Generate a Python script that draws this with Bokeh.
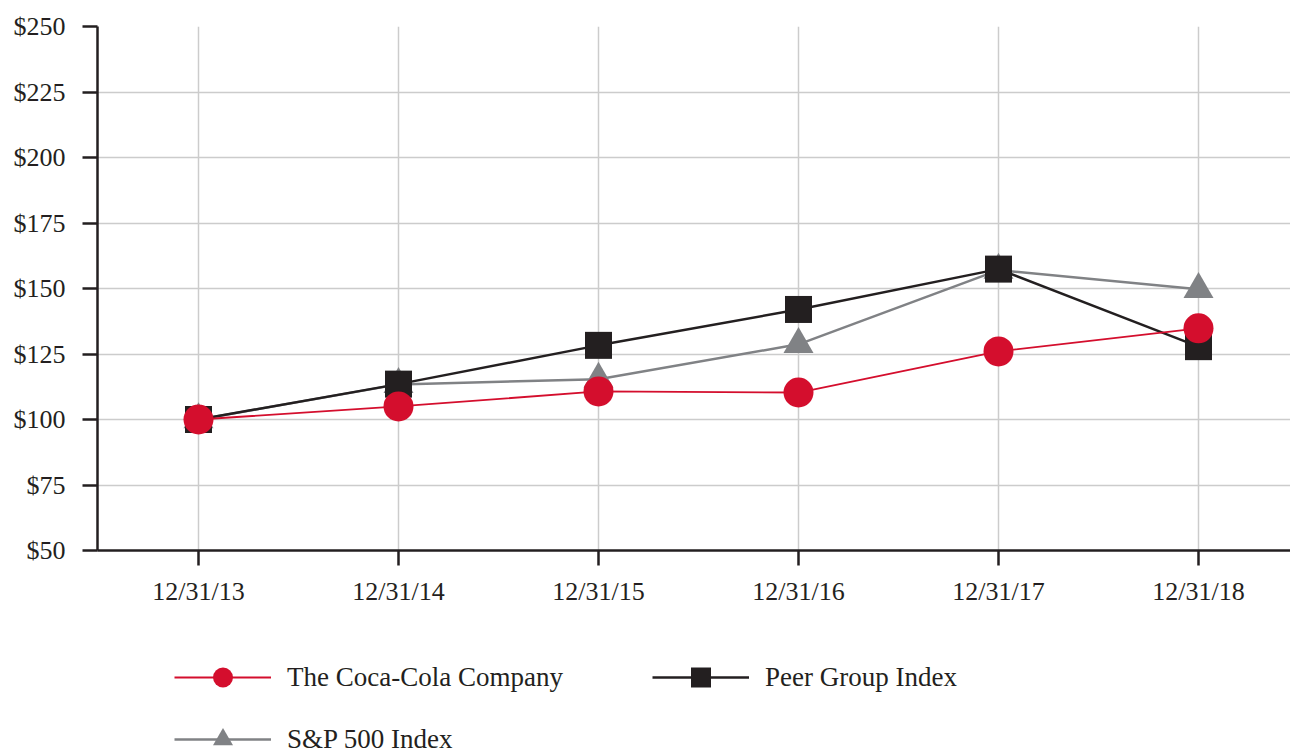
from bokeh.plotting import figure
from bokeh.layouts import column
from bokeh.models import (Range1d, FixedTicker, PrintfTickFormatter, Legend, LegendItem)
from bokeh.embed import file_html
from bokeh.resources import INLINE

categories = ["12/31/13", "12/31/14", "12/31/15", "12/31/16", "12/31/17", "12/31/18"]
coca_cola = [100, 105, 110.7, 110.3, 126, 134.8]
peer_group = [100, 113.5, 128.3, 142, 157.4, 127.8]
sp500 = [100, 113.4, 115.4, 128.7, 157, 149.7]
y_ticks = [50, 75, 100, 125, 150, 175, 200, 225, 250]
series_names = ["The Coca-Cola Company", "Peer Group Index", "S&P 500 Index"]

x = list(range(len(categories)))

RED = "#d40e2d"
BLACK = "#231f20"
GRAY = "#808285"
FONT = "Liberation Serif"

p = figure(width=1290, height=620, output_backend="svg", toolbar_location=None,
           x_range=Range1d(-0.505, 5.46), y_range=Range1d(50, 250),
           min_border_left=97, min_border_top=26, min_border_right=0, min_border_bottom=70)
p.outline_line_color = None
p.background_fill_color = "white"
p.border_fill_color = "white"

p.xaxis.ticker = FixedTicker(ticks=x)
p.xaxis.major_label_overrides = {i: c for i, c in enumerate(categories)}
p.yaxis.ticker = FixedTicker(ticks=y_ticks)
p.yaxis.formatter = PrintfTickFormatter(format="$%d")

for ax in (p.xaxis[0], p.yaxis[0]):
    ax.axis_line_color = BLACK
    ax.axis_line_width = 2.5
    ax.major_tick_line_color = BLACK
    ax.major_tick_line_width = 2.5
    ax.major_tick_out = 15
    ax.major_tick_in = 0
    ax.minor_tick_line_color = None
    ax.major_label_text_font = FONT
    ax.major_label_text_font_size = "26px"
    ax.major_label_text_color = BLACK
p.yaxis.major_label_standoff = 17
p.xaxis.major_label_standoff = 11

p.xgrid.grid_line_color = "#cccccc"
p.ygrid.grid_line_color = "#cccccc"
p.xgrid.grid_line_width = 1.5
p.ygrid.grid_line_width = 1.5

def draw(fig):
    gl = fig.line(x, sp500, line_color=GRAY, line_width=2.5)
    gm = fig.scatter(x, sp500, marker="triangle", size=30, fill_color=GRAY, line_color=None)
    bl = fig.line(x, peer_group, line_color=BLACK, line_width=2.5)
    bm = fig.scatter(x, peer_group, marker="square", size=27, fill_color=BLACK, line_color=None)
    rl = fig.line(x, coca_cola, line_color=RED, line_width=1.8)
    rm = fig.scatter(x, coca_cola, marker="circle", size=30, fill_color=RED, line_color=None)
    return (rl, rm), (bl, bm), (gl, gm)

draw(p)

# legend panel (series drawn outside its visible range; only the legend shows)
q = figure(width=1290, height=132, output_backend="svg", toolbar_location=None,
           x_range=Range1d(1000, 1001), y_range=Range1d(1000, 1001),
           x_axis_type=None, y_axis_type=None, min_border=0)
q.outline_line_color = None
q.xgrid.visible = False
q.ygrid.visible = False
red_r, black_r, gray_r = draw(q)

legend = Legend(items=[
    LegendItem(label=series_names[0], renderers=list(red_r)),
    LegendItem(label=series_names[1], renderers=list(black_r)),
    LegendItem(label=series_names[2], renderers=list(gray_r)),
], location=(77, -12), orientation="horizontal", ncols=2)
legend.glyph_width = 97
legend.glyph_height = 50
legend.label_height = 50
legend.label_width = 353
legend.label_standoff = 16
legend.spacing = 12
legend.padding = 0
legend.margin = 0
legend.border_line_color = None
legend.background_fill_alpha = 0
legend.label_text_font = FONT
legend.label_text_font_size = "27px"
legend.label_text_color = BLACK
q.add_layout(legend, "center")

open("out.html", "w").write(file_html(column(p, q), INLINE))
